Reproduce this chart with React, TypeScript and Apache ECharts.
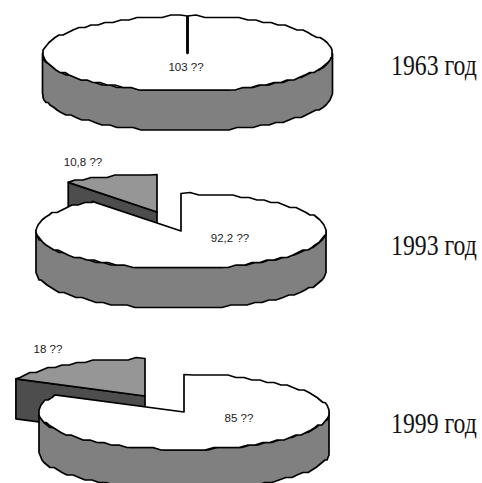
import React, { useEffect, useRef } from "react";
import * as echarts from "echarts";

// Data
const years = [1963, 1993, 1999];
const mainValues = [103, 92.2, 85];
const slicedValues = [0, 10.8, 18];

// Layout of each pie (separate from the data)
const pieCenters = [[187.5, 53.5], [181, 231], [184, 412]];
const explodeOffsets = [[0, 0], [-24, -19], [-39, -16]];
const mainLabelPos = [[186, 67], [230, 238], [239, 418]];
const slicedLabelPos = [[0, 0], [83, 162], [48, 349]];
const yearLabelY = [65, 245, 423];
const RX = 145;
const RY = 37.5;
const DEPTH = 40;

const OUTLINE = { stroke: "#000", lineWidth: 1.7, lineJoin: "round" as const };

const snap = (v: number, g: number) => Math.round(v / g) * g;

// point on the tilted rim; angle in degrees clockwise from 12 o'clock
function rim(cx: number, cy: number, deg: number, rough = true): number[] {
  const a = (deg * Math.PI) / 180;
  const x = cx + RX * Math.sin(a);
  const y = cy - RY * Math.cos(a);
  return rough ? [snap(x, 1), snap(y, 2.5)] : [x, y];
}

function arc(cx: number, cy: number, from: number, to: number): number[][] {
  const pts: number[][] = [rim(cx, cy, from, false)];
  for (let d = from + 3.5; d < to; d += 3.5) pts.push(rim(cx, cy, d));
  pts.push(rim(cx, cy, to, false));
  return pts;
}

function renderPie(_params: any, api: any) {
  const i = api.value(0) as number;
  const main = api.value(1) as number;
  const sliced = api.value(2) as number;
  const total = main + sliced;
  const [cx, cy] = pieCenters[i];
  const endDeg = (main / total) * 360;
  const children: any[] = [];

  if (sliced > 0) {
    const ex = cx + explodeOffsets[i][0];
    const ey = cy + explodeOffsets[i][1];
    const p = rim(ex, ey, endDeg, false);
    children.push({
      type: "polygon",
      shape: { points: [[ex, ey], p, [p[0], p[1] + DEPTH], [ex, ey + DEPTH]] },
      style: { fill: "#4d4d4d", ...OUTLINE },
    });
    children.push({
      type: "polygon",
      shape: { points: [[ex, ey], ...arc(ex, ey, endDeg, 360)] },
      style: { fill: "#969696", ...OUTLINE },
    });
  }

  const front = arc(cx, cy, 90, 270);
  const back = front.map(([x, y]) => [x, y + DEPTH]).reverse();
  children.push({
    type: "polygon",
    shape: { points: [...front, ...back] },
    style: { fill: "#808080", ...OUTLINE },
  });
  children.push({
    type: "polygon",
    shape: { points: [[cx, cy], ...arc(cx, cy, 0, endDeg)] },
    style: { fill: "#ffffff", ...OUTLINE },
  });
  if (sliced === 0) {
    // a single full slice: its seam is drawn as one heavy radius
    children.push({
      type: "line",
      shape: { x1: cx, y1: cy - RY, x2: cx, y2: cy },
      style: { stroke: "#000", lineWidth: 2.8 },
    });
  }

  const fmt = (v: number) => `${String(v).replace(".", ",")} ??`;
  const label = (text: string, pos: number[]) => ({
    type: "text",
    x: pos[0],
    y: pos[1],
    style: {
      text,
      fill: "#1a1a1a",
      fontFamily: "Liberation Sans",
      fontSize: 11.5,
      align: "center",
      verticalAlign: "middle",
    },
  });
  children.push(label(fmt(main), mainLabelPos[i]));
  if (sliced > 0) children.push(label(fmt(sliced), slicedLabelPos[i]));
  children.push({
    type: "text",
    x: 391,
    y: yearLabelY[i],
    scaleX: 0.82,
    style: {
      text: `${years[i]} год`,
      fill: "#111",
      fontFamily: "Liberation Serif",
      fontSize: 29,
      align: "left",
      verticalAlign: "middle",
    },
  });
  return { type: "group", children };
}

export default function App() {
  const ref = useRef<HTMLDivElement>(null);
  useEffect(() => {
    const chart = echarts.init(ref.current!, undefined, { renderer: "svg" });
    chart.setOption({
      animation: false,
      backgroundColor: "#ffffff",
      series: [
        {
          type: "custom",
          coordinateSystem: "none",
          clip: false,
          renderItem: renderPie,
          data: years.map((_, i) => [i, mainValues[i], slicedValues[i]]),
        },
      ],
    });
    return () => chart.dispose();
  }, []);
  return (
    <div
      ref={ref}
      style={{ position: "absolute", left: 0, top: 0, width: 482, height: 483, overflow: "hidden" }}
    />
  );
}
